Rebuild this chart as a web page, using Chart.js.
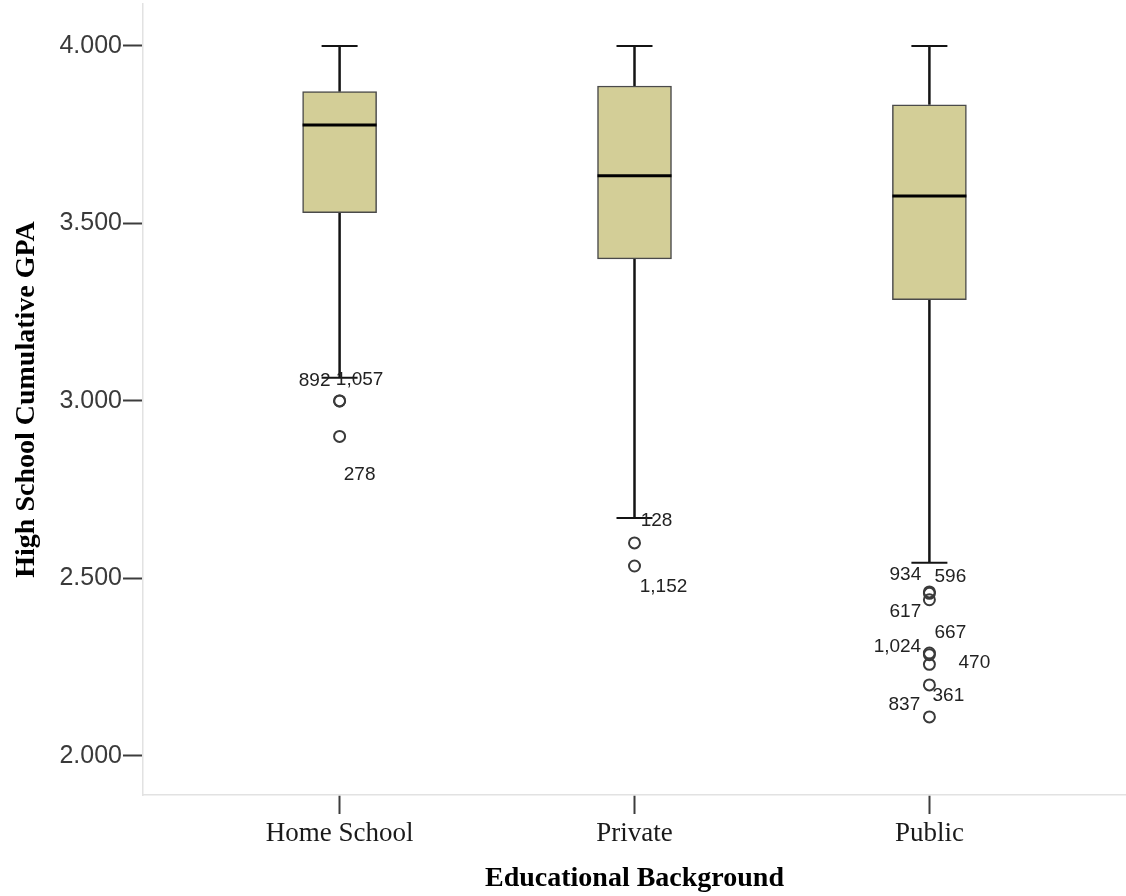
<!DOCTYPE html>
<html>
<head>
<meta charset="utf-8">
<title>High School Cumulative GPA by Educational Background</title>
<script src="https://cdn.jsdelivr.net/npm/chart.js@4/dist/chart.umd.min.js"></script>
<style>
  html, body { margin: 0; padding: 0; background: #ffffff; }
  canvas { display: block; }
</style>
</head>
<body>
<canvas id="gpaBox" width="1126" height="896"></canvas>
<script>
// Five-number summaries per group
const categories  = ['Home School', 'Private', 'Public'];
const whiskerLow  = [3.065, 2.670, 2.544];
const quartile1   = [3.530, 3.400, 3.285];
const medians     = [3.777, 3.634, 3.577];
const quartile3   = [3.871, 3.887, 3.834];
const whiskerHigh = [4.000, 4.000, 4.000];
const yTickValues = [2.0, 2.5, 3.0, 3.5, 4.0];

// Outlying cases: group index, GPA, case number
const outlierGroup = [0, 0, 0, 1, 1, 2, 2, 2, 2, 2, 2, 2, 2];
const outlierValue = [3.000, 3.000, 2.900, 2.600, 2.535, 2.462, 2.458, 2.440, 2.290, 2.285, 2.258, 2.200, 2.110];
const outlierCase  = ['892', '1,057', '278', '128', '1,152', '934', '596', '617', '667', '1,024', '470', '361', '837'];

// Placement of each case number relative to its circle, in pixels
const caseLabelOffset = {
  '892': [-25, -20], '1,057': [20, -21], '278': [20, 38],
  '128': [22, -22], '1,152': [29, 21],
  '934': [-24, -17], '596': [21, -17], '617': [-24, 12],
  '667': [21, -20], '1,024': [-32, -8], '470': [45, -2],
  '361': [19, 11], '837': [-25, -12]
};

const BOX_WIDTH = 74;
const CAP_HALF = 18;

// Whiskers, caps, medians and case labels drawn on the chart's own scales
const boxParts = {
  id: 'boxParts',
  beforeDatasetsDraw(chart) {
    const { ctx, scales: { x, y } } = chart;
    ctx.save();
    ctx.strokeStyle = '#141414';
    ctx.lineCap = 'butt';
    categories.forEach((_, i) => {
      const cx = x.getPixelForValue(i + 1);
      const yHi = y.getPixelForValue(whiskerHigh[i]);
      const yLo = y.getPixelForValue(whiskerLow[i]);
      ctx.lineWidth = 2.5;
      ctx.beginPath();
      ctx.moveTo(cx, y.getPixelForValue(quartile3[i]));
      ctx.lineTo(cx, yHi);
      ctx.moveTo(cx, y.getPixelForValue(quartile1[i]));
      ctx.lineTo(cx, yLo);
      ctx.stroke();
      ctx.lineWidth = 2;
      ctx.beginPath();
      ctx.moveTo(cx - CAP_HALF, yHi);
      ctx.lineTo(cx + CAP_HALF, yHi);
      ctx.moveTo(cx - CAP_HALF, yLo);
      ctx.lineTo(cx + CAP_HALF, yLo);
      ctx.stroke();
    });
    ctx.restore();
  },
  afterDatasetsDraw(chart) {
    const { ctx, scales: { x, y } } = chart;
    ctx.save();
    ctx.strokeStyle = '#000000';
    ctx.lineWidth = 3;
    categories.forEach((_, i) => {
      const cx = x.getPixelForValue(i + 1);
      const ym = y.getPixelForValue(medians[i]);
      ctx.beginPath();
      ctx.moveTo(cx - BOX_WIDTH / 2, ym);
      ctx.lineTo(cx + BOX_WIDTH / 2, ym);
      ctx.stroke();
    });
    ctx.fillStyle = '#222222';
    ctx.font = '19px "Liberation Sans", Arial, sans-serif';
    ctx.textAlign = 'center';
    ctx.textBaseline = 'middle';
    outlierCase.forEach((id, k) => {
      const px = x.getPixelForValue(outlierGroup[k] + 1);
      const py = y.getPixelForValue(outlierValue[k]);
      const [dx, dy] = caseLabelOffset[id] || [20, 0];
      ctx.fillText(id, px + dx, py + dy);
    });
    ctx.restore();
  }
};

new Chart(document.getElementById('gpaBox'), {
  type: 'bar',
  data: {
    datasets: [
      {
        type: 'bar',
        label: 'Interquartile range',
        data: categories.map((_, i) => ({ x: i + 1, y: [quartile1[i], quartile3[i]] })),
        backgroundColor: '#d3ce97',
        borderColor: '#4a4a4a',
        borderWidth: 1.5,
        borderSkipped: false,
        barThickness: BOX_WIDTH,
        order: 2
      },
      {
        type: 'scatter',
        label: 'Outliers',
        data: outlierValue.map((v, k) => ({ x: outlierGroup[k] + 1, y: v })),
        pointStyle: 'circle',
        pointRadius: 5.5,
        pointBorderWidth: 2,
        pointBorderColor: '#3a3a3a',
        pointBackgroundColor: 'rgba(255,255,255,0)',
        showLine: false,
        order: 1
      }
    ]
  },
  options: {
    responsive: false,
    animation: false,
    devicePixelRatio: 1,
    layout: { autoPadding: false, padding: { top: 4, left: 0, right: 0, bottom: 0 } },
    plugins: {
      legend: { display: false },
      tooltip: { enabled: false }
    },
    scales: {
      x: {
        type: 'linear',
        min: 1 / 3,
        max: 11 / 3,
        offset: false,
        afterBuildTicks: s => { s.ticks = categories.map((_, i) => ({ value: i + 1 })); },
        afterFit: s => { s.height = 101; s.paddingLeft = 0; s.paddingRight = 0; },
        grid: {
          offset: false,
          drawOnChartArea: false,
          drawTicks: true,
          tickLength: 19,
          tickWidth: 2,
          tickColor: '#3c3c3c'
        },
        border: { display: true, color: '#e2e2e2', width: 1.5 },
        ticks: {
          autoSkip: false,
          maxRotation: 0,
          padding: 4,
          color: '#1a1a1a',
          font: { family: '"Liberation Serif", "Times New Roman", serif', size: 27 },
          callback: v => categories[Math.round(v) - 1]
        },
        title: {
          display: true,
          text: 'Educational Background',
          color: '#000000',
          font: { family: '"Liberation Serif", "Times New Roman", serif', size: 28, weight: 'bold' },
          padding: { top: 0, bottom: 0 }
        }
      },
      y: {
        type: 'linear',
        min: 1.89,
        max: 4.118,
        beginAtZero: false,
        afterBuildTicks: s => { s.ticks = yTickValues.map(v => ({ value: v })); },
        afterFit: s => { s.width = 143; s.paddingTop = 0; s.paddingBottom = 0; },
        grid: {
          drawOnChartArea: false,
          drawTicks: true,
          tickLength: 20,
          tickWidth: 2,
          tickColor: '#3c3c3c'
        },
        border: { display: true, color: '#e2e2e2', width: 1.5 },
        ticks: {
          padding: 1,
          color: '#3a3a3a',
          font: { family: '"Liberation Sans", Arial, sans-serif', size: 25 },
          callback: v => Number(v).toFixed(3)
        },
        title: {
          display: true,
          text: 'High School Cumulative GPA',
          color: '#000000',
          font: { family: '"Liberation Serif", "Times New Roman", serif', size: 28, weight: 'bold' },
          padding: { top: 10, bottom: 0 }
        }
      }
    }
  },
  plugins: [boxParts]
});
</script>
</body>
</html>
